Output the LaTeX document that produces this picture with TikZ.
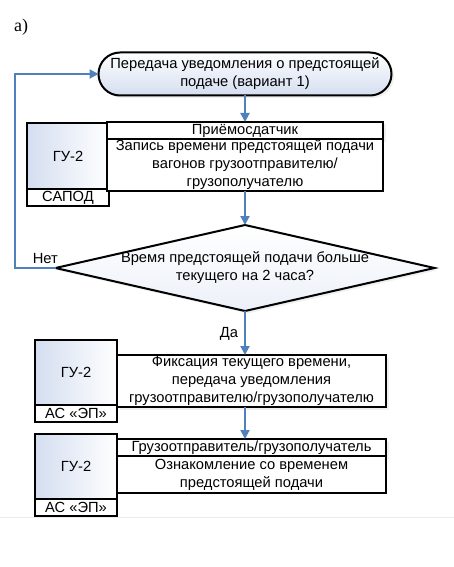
\documentclass[tikz,border=0pt]{standalone}
\usepackage{fontspec}
\setmainfont{Liberation Sans}
\newfontfamily\partfont{Liberation Serif}
\usetikzlibrary{arrows.meta,%
                shapes,positioning,shadows}
\definecolor{flowblue}{RGB}{79,129,189}
\definecolor{paleblue}{RGB}{212,222,240}
\definecolor{rulecolor}{RGB}{236,236,226}

\begin{document}
\begin{tikzpicture}[x=1pt,y=1pt]
  \tikzset{every node/.style = {font       = \fontsize{14.7}{18}\selectfont,
                                inner sep  = 0pt,
                                outer sep  = 0pt},
           BoxStyle/.style   = {rectangle, draw=black, line width=2pt,
                                fill=white, align=center},
           RoleStyle/.style  = {BoxStyle, minimum width=82pt,
                                left color=paleblue, right color=white},
           SystemStyle/.style= {BoxStyle, minimum width=82pt, minimum height=17pt},
           HeadStyle/.style  = {BoxStyle, minimum height=17pt},
           SoftShadow/.style = {drop shadow={shadow xshift=2.5pt, shadow yshift=-2.5pt,
                                             opacity=0.12}},
           FlowArrow/.style  = {draw=flowblue, line width=2pt,
                                -{Triangle[width=9pt,length=9pt]}}}
  \useasboundingbox (0,0) rectangle (454,-567);
  \node[font=\partfont\fontsize{18}{20}\selectfont](part) at (21,-27){a)};
  %%% START %%%
  \node[rounded rectangle, draw=black, line width=2pt, top color=white, bottom color=paleblue,
        minimum width=293pt, minimum height=43pt, align=center, SoftShadow]
        (start) at (245,-74){Передача уведомления о предстоящей\\подаче (вариант 1)};
  %%% STEP 1 %%%
  \node[RoleStyle, minimum height=66pt, anchor=north west](role1) at (27,-123){ГУ-2};
  \node[SystemStyle, below=0pt of role1](sys1){САПОД};
  \node[HeadStyle, minimum width=276pt, SoftShadow](head1) at (245,-130.5){Приёмосдатчик};
  \node[BoxStyle, minimum width=276pt, minimum height=52pt, below=0pt of head1]
        (body1){Запись времени предстоящей подачи\\вагонов грузоотправителю/\\грузополучателю};
  %%% CHECK %%%
  \node[diamond, draw=black, line width=2pt, top color=white, bottom color=paleblue!45,
        minimum width=379pt, minimum height=86pt, SoftShadow](check) at (245,-268){};
  \node[align=center](question) at (check.center){Время предстоящей подачи больше\\текущего на 2 часа?};
  %%% STEP 2 %%%
  \node[RoleStyle, minimum height=65pt, anchor=north west](role2) at (35,-340){ГУ-2};
  \node[SystemStyle, below=0pt of role2](sys2){АС «ЭП»};
  \node[BoxStyle, minimum width=269pt, minimum height=52pt, SoftShadow]
        (body2) at (251.5,-381){Фиксация текущего времени,\\передача уведомления\\грузоотправителю/грузополучателю};
  %%% STEP 3 %%%
  \node[RoleStyle, minimum height=65pt, anchor=north west](role3) at (35,-434){ГУ-2};
  \node[SystemStyle, below=0pt of role3](sys3){АС «ЭП»};
  \node[HeadStyle, minimum width=269pt, SoftShadow](head3) at (251.5,-447.5){Грузоотправитель/грузополучатель};
  \node[BoxStyle, minimum width=269pt, minimum height=37pt, below=0pt of head3]
        (body3){Ознакомление со временем\\предстоящей подачи};
  %%% ARROWS %%%
  \coordinate (back) at (15,-268);
  \draw[FlowArrow](start) to (head1);
  \draw[FlowArrow](body1) to (check);
  \draw[FlowArrow](check.west) -- node[pos=0.25, above=4pt]{Нет} (back) |- (start.west);
  \draw[FlowArrow](check.south) -- node[pos=0.52, left=7pt]{Да} (check.south |- body2.north);
  \draw[FlowArrow](body2.south -| check.south) -- (check.south |- head3.north);
  %% PAGE EDGE %%
  \draw[rulecolor, line width=1pt] (0,-517) -- (454,-517);
\end{tikzpicture}
\end{document}
